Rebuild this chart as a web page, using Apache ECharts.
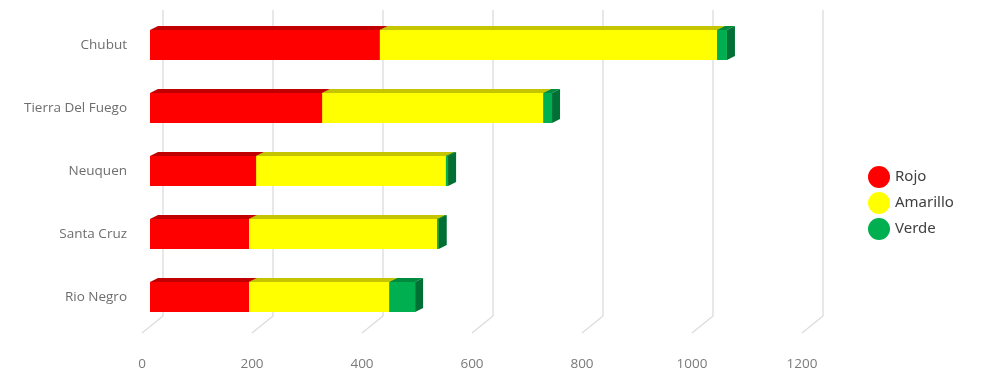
<!DOCTYPE html>
<html>
<head>
<meta charset="utf-8">
<script src="https://cdn.jsdelivr.net/npm/echarts@6/dist/echarts.min.js"></script>
<style>
html,body{margin:0;padding:0;background:#fff;}
#chart{width:986px;height:374px;}
</style>
</head>
<body>
<div id="chart"></div>
<script>
const categories = ['Chubut', 'Tierra Del Fuego', 'Neuquen', 'Santa Cruz', 'Rio Negro'];
const rojo = [418, 313, 193, 180, 180];
const amarillo = [613, 402, 345, 342, 255];
const verde = [18, 16, 4, 3, 47];
const xTicks = [0, 200, 400, 600, 800, 1000, 1200];

const seriesDefs = [
  { name: 'Rojo', values: rojo, front: '#FF0000', top: '#C00000', side: '#B00000' },
  { name: 'Amarillo', values: amarillo, front: '#FFFF00', top: '#C4C400', side: '#B5B500' },
  { name: 'Verde', values: verde, front: '#00B050', top: '#008A3E', side: '#007034' }
];

const DX = 8, DY = 4;

function buildStack() {
  const base = categories.map(() => 0);
  return seriesDefs.map(def => {
    const data = def.values.map((v, i) => {
      const item = [base[i], base[i] + v, i];
      base[i] += v;
      return item;
    });
    return { def, data };
  });
}

const stacks = buildStack();

const barSeries = stacks.map(({ def, data }) => ({
  name: def.name,
  type: 'custom',
  xAxisIndex: 0,
  yAxisIndex: 0,
  itemStyle: { color: def.front },
  encode: { x: [0, 1], y: 2 },
  z: 5,
  data: data,
  renderItem: function (params, api) {
    const b = api.value(0), e = api.value(1), c = api.value(2);
    const p0 = api.coord([b, c]);
    const p1 = api.coord([e, c]);
    const h = api.size([0, 1])[1] * 0.476;
    const top = p0[1] - h / 2, bot = p0[1] + h / 2;
    const x0 = p0[0], x1 = p1[0];
    return {
      type: 'group',
      children: [
        { type: 'rect', shape: { x: x0, y: top, width: x1 - x0, height: h }, style: { fill: def.front } },
        { type: 'polygon', shape: { points: [[x0, top], [x1, top], [x1 + DX, top - DY], [x0 + DX, top - DY]] }, style: { fill: def.top } },
        { type: 'polygon', shape: { points: [[x1, top], [x1 + DX, top - DY], [x1 + DX, bot - DY], [x1, bot]] }, style: { fill: def.side } }
      ]
    };
  }
}));

const gridSeries = {
  type: 'custom',
  xAxisIndex: 1,
  yAxisIndex: 1,
  silent: true,
  z: 1,
  data: xTicks.map(v => [v]),
  renderItem: function (params, api) {
    const v = api.value(0);
    const pt = api.coord([v, 1]);
    const pb = api.coord([v, 0]);
    return {
      type: 'polyline',
      shape: { points: [[pt[0], pt[1]], [pb[0], pb[1]], [pb[0] - 21, pb[1] + 17]] },
      style: { stroke: '#DCDCDC', lineWidth: 1.3, fill: null }
    };
  }
};

const chart = echarts.init(document.getElementById('chart'));
chart.setOption({
  animation: false,
  backgroundColor: '#ffffff',
  legend: {
    orient: 'vertical',
    left: 863,
    top: 161,
    itemWidth: 22,
    itemHeight: 22,
    itemGap: 4,
    icon: 'circle',
    data: seriesDefs.map(d => d.name),
    textStyle: { fontFamily: 'Noto Sans', fontSize: 15, color: '#404040' }
  },
  grid: [
    { left: 150, width: 660, top: 13.5, height: 315 },
    { left: 163, width: 660, top: 10, height: 306 },
    { left: 142, width: 660, top: 10, height: 344 }
  ],
  xAxis: [
    { type: 'value', gridIndex: 0, min: 0, max: 1200, interval: 200, show: false },
    { type: 'value', gridIndex: 1, min: 0, max: 1200, interval: 200, show: false },
    {
      type: 'value', gridIndex: 2, min: 0, max: 1200, interval: 200,
      axisLine: { show: false }, axisTick: { show: false }, splitLine: { show: false },
      axisLabel: { margin: 3, color: '#7A7A7A', fontSize: 13.5, fontFamily: 'Open Sans', formatter: v => String(v) }
    }
  ],
  yAxis: [
    {
      type: 'category', gridIndex: 0, data: categories, inverse: true,
      axisLine: { show: false }, axisTick: { show: false }, splitLine: { show: false },
      axisLabel: { margin: 23, color: '#6E6E6E', fontSize: 13.5, fontFamily: 'Open Sans' }
    },
    { type: 'value', gridIndex: 1, min: 0, max: 1, show: false },
    { type: 'value', gridIndex: 2, min: 0, max: 1, show: false }
  ],
  series: [gridSeries].concat(barSeries)
});
</script>
</body>
</html>
